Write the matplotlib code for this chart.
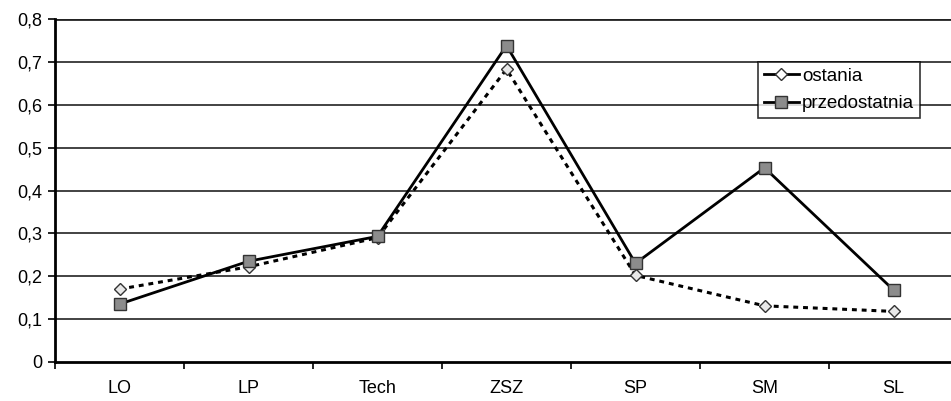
import matplotlib
matplotlib.use("Agg")
from matplotlib import pyplot as plt
from matplotlib.lines import Line2D
import numpy as np

plt.rcParams['font.family'] = ['Liberation Sans', 'DejaVu Sans']

categories = ['LO', 'LP', 'Tech', 'ZSZ', 'SP', 'SM', 'SL']
ostania = [0.170, 0.222, 0.290, 0.683, 0.202, 0.131, 0.118]
przedostatnia = [0.135, 0.235, 0.293, 0.738, 0.230, 0.453, 0.168]
yticks = [0, 0.1, 0.2, 0.3, 0.4, 0.5, 0.6, 0.7, 0.8]
ylabels = ['0', '0,1', '0,2', '0,3', '0,4', '0,5', '0,6', '0,7', '0,8']

W, H = 951, 401
fig = plt.figure(figsize=(W/100, H/100), dpi=100)
# plot area runs past the right edge, as in the cropped original
ax = fig.add_axes([55/W, 39/H, 903/W, 343/H])

x = np.arange(len(categories))
ax.plot(x, ostania, color='black', lw=2.2, ls=(0, (1.6, 1.6)),
        marker='D', ms=6.5, mfc='#e8e8e8', mec='#333333', mew=1, zorder=3)
ax.plot(x, przedostatnia, color='black', lw=2, ls='-',
        marker='s', ms=9, mfc='#8c8c8c', mec='#333333', mew=1, zorder=4)

ax.set_xlim(-0.5, len(categories) - 0.5)
ax.set_ylim(0, 0.8)
ax.set_yticks(yticks)
ax.set_yticklabels(ylabels, fontsize=13)
ax.set_xticks(x)
ax.set_xticklabels(categories, fontsize=13)
ax.set_xticks(np.arange(len(categories) + 1) - 0.5, minor=True)
ax.tick_params(axis='x', which='major', length=0, pad=13)
ax.tick_params(axis='x', which='minor', length=5, width=1.2, direction='out')
ax.tick_params(axis='y', length=5, width=1.2, direction='out', pad=4)

for yv in yticks[1:]:
    ax.axhline(yv, color='#222222', lw=1.2 if yv < 0.8 else 2, zorder=1)

for s in ['top', 'right']:
    ax.spines[s].set_visible(False)
for s in ['left', 'bottom']:
    ax.spines[s].set_linewidth(2)
    ax.spines[s].set_color('black')

handles = [
    Line2D([], [], color='black', lw=2, marker='D', ms=6, mfc='white', mec='#333333'),
    Line2D([], [], color='black', lw=2, marker='s', ms=8, mfc='#8c8c8c', mec='#333333'),
]
leg = ax.legend(handles, ['ostania', 'przedostatnia'], loc='upper left',
                frameon=True, fancybox=False, fontsize=13.5, handlelength=1.9,
                handletextpad=0.15, borderpad=0.3, labelspacing=0.55,
                borderaxespad=0)
leg.get_frame().set_edgecolor('black')
leg.get_frame().set_linewidth(1.2)
leg.set_bbox_to_anchor((758/W, 1 - 62/H), transform=fig.transFigure)

fig.savefig('out.png', dpi=100)
